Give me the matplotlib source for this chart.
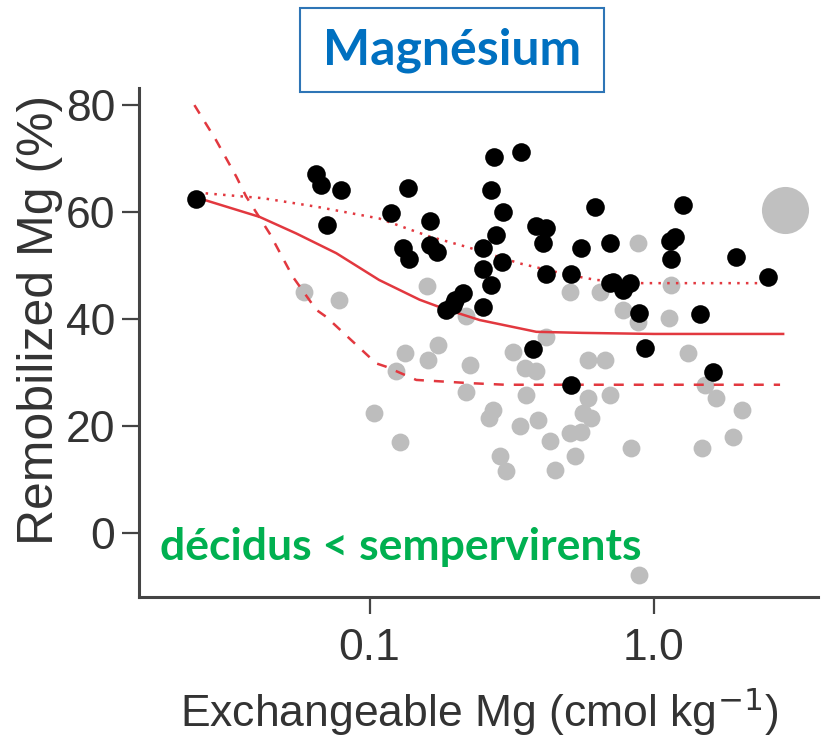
import matplotlib.pyplot as plt
from matplotlib.patches import Rectangle
from matplotlib.ticker import FixedLocator, NullLocator

# evergreen (black) points
black_x = [0.0245, 0.0649, 0.0676, 0.0795, 0.0708, 0.2735, 0.342, 0.1365, 0.268, 0.295,
           0.119, 0.1626, 0.386, 0.419, 0.62, 0.279, 0.408, 0.556, 0.70, 0.131,
           0.138, 0.1626, 0.172, 0.251, 0.293, 0.251, 0.419, 0.512, 0.268, 0.213,
           0.199, 0.186, 0.251, 1.268, 1.186, 1.14, 1.15, 1.944, 2.53, 0.72,
           0.823, 0.78, 0.89, 1.45, 0.93, 1.62, 0.376, 0.512, 0.70, 0.196]
black_y = [62.4, 67.2, 65.0, 64.1, 57.6, 70.3, 71.3, 64.5, 64.1, 60.1,
           59.9, 58.3, 57.3, 57.0, 61.0, 55.7, 54.2, 53.2, 54.2, 53.2,
           51.3, 53.8, 52.5, 53.2, 50.6, 49.3, 48.5, 48.5, 46.4, 44.8,
           43.6, 41.7, 42.3, 61.3, 55.4, 54.5, 51.3, 51.6, 47.9, 47.0,
           46.7, 45.4, 41.1, 40.9, 34.5, 30.0, 34.3, 27.7, 46.7, 42.6]

# deciduous (grey) points
grey_x = [0.059, 0.078, 0.159, 0.506, 0.646, 0.219, 0.881, 1.15, 0.78, 1.13,
          0.88, 1.32, 0.672, 1.51, 1.66, 2.04, 1.9, 1.48, 0.83, 0.70,
          0.887, 0.419, 0.32, 0.351, 0.386, 0.586, 0.225, 0.174, 0.160, 0.133,
          0.124, 0.219, 0.356, 0.586, 0.104, 0.272, 0.264, 0.337, 0.392, 0.564,
          0.603, 0.506, 0.556, 0.43, 0.128, 0.287, 0.303, 0.448, 0.527]
grey_y = [45.1, 43.6, 46.2, 45.1, 45.1, 40.6, 54.2, 46.4, 41.7, 40.1,
          39.5, 33.6, 32.3, 27.7, 25.2, 23.0, 18.0, 15.8, 15.8, 25.8,
          -7.9, 36.7, 33.9, 30.8, 30.2, 32.3, 31.4, 35.1, 32.3, 33.6,
          30.2, 26.4, 25.8, 25.2, 22.4, 23.0, 21.4, 20.0, 21.1, 22.4,
          21.4, 18.6, 18.9, 17.1, 16.9, 14.3, 11.5, 11.8, 14.3]

big_x = [2.89]
big_y = [60.4]

# fitted curves
mean_x = [0.0245, 0.0265, 0.041, 0.0552, 0.0764, 0.108, 0.15, 0.181, 0.244, 0.386, 0.56, 1.0, 2.85]
mean_y = [62.4, 62.2, 59.1, 56.0, 52.3, 47.3, 43.6, 42.0, 39.8, 37.6, 37.4, 37.2, 37.2]
upper_x = [0.0265, 0.042, 0.065, 0.108, 0.163, 0.219, 0.337, 0.506, 0.627, 0.91, 2.7]
upper_y = [63.5, 62.6, 61.0, 58.8, 55.4, 53.5, 50.4, 48.2, 47.3, 46.7, 46.7]
lower_x = [0.0242, 0.0288, 0.034, 0.0368, 0.0445, 0.0537, 0.065, 0.0704, 0.1055, 0.114, 0.146, 0.225, 0.3, 2.78]
lower_y = [80.0, 73.5, 66.6, 62.9, 56.0, 47.9, 41.7, 40.4, 31.7, 31.1, 28.6, 28.0, 27.7, 27.7]

W, H = 825, 742
fig = plt.figure(figsize=(W / 100, H / 100), dpi=100)
ax = fig.add_axes([139 / W, 1 - 597 / H, (818 - 139) / W, (597 - 88) / H])

red = '#e2383f'
txt = '#333333'

ax.scatter(grey_x, grey_y, s=165, color='#bdbdbd', linewidths=0, zorder=2)
ax.scatter(big_x, big_y, s=1150, color='#c0c0c0', linewidths=0, zorder=2)
ax.plot(mean_x, mean_y, color=red, lw=1.8, zorder=3)
ax.plot(upper_x, upper_y, color=red, lw=1.8, ls=(0, (1, 2.5)), zorder=3)
ax.plot(lower_x, lower_y, color=red, lw=1.8, ls=(0, (4, 4)), zorder=3)
ax.scatter(black_x, black_y, s=180, color='black', linewidths=0, zorder=4)

ax.set_xscale('log')
ax.set_xlim(0.01545, 3.78)
ax.set_ylim(-12, 83.2)
ax.xaxis.set_major_locator(FixedLocator([0.1, 1.0]))
ax.xaxis.set_minor_locator(NullLocator())
ax.set_xticklabels(['0.1', '1.0'])
ax.set_yticks([0, 20, 40, 60, 80])

for s in ['top', 'right']:
    ax.spines[s].set_visible(False)
for s in ['left', 'bottom']:
    ax.spines[s].set_linewidth(2.2)
    ax.spines[s].set_color('#444444')
ax.tick_params(length=12, width=1.6, color='#444444', labelsize=32,
               labelcolor=txt, labelfontfamily='Liberation Sans')
ax.tick_params(axis='y', pad=5)
ax.tick_params(axis='x', pad=10)

fig.text(40 / W, 1 - 320 / H, 'Remobilized Mg (%)', rotation=90, ha='center', va='center',
         fontsize=36, color=txt, family='Liberation Sans')
fig.text(479 / W, 1 - 712 / H, 'Exchangeable Mg (cmol kg$^{-1}$)', ha='center', va='center',
         fontsize=32, color=txt, family='Liberation Sans')

fig.patches.append(Rectangle((300 / W, 1 - 92 / H), 304 / W, 84 / H, transform=fig.transFigure,
                             fill=False, edgecolor='#2e75b6', lw=1.5))
fig.text(452 / W, 1 - 50 / H, 'Magnésium', ha='center', va='center', fontsize=36,
         fontweight='bold', color='#0070c0', family='Lato')
fig.text(160 / W, 1 - 560 / H, 'décidus < sempervirents', ha='left', va='baseline', fontsize=32,
         fontweight='bold', color='#00b050', family='Lato')

fig.savefig('out.png', dpi=100)
